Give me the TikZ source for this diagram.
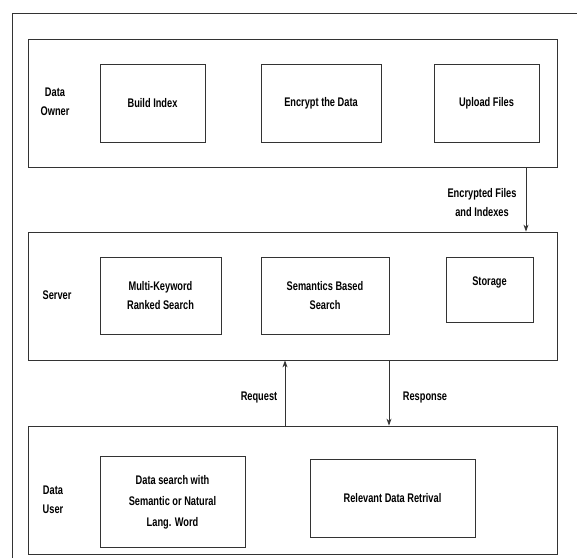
\documentclass[tikz,border=0pt]{standalone}
\usepackage{fontspec}
\setmainfont{Liberation Sans}[FakeStretch=0.74]
\usetikzlibrary{arrows.meta}
\tikzset{
  panel/.style={draw=black!80, line width=0.8pt, minimum height=128pt, minimum width=529pt, inner sep=0pt},
  box/.style={draw=black!80, line width=0.8pt, inner sep=0pt, align=center, font=\bfseries\fontsize{12.5}{19}\selectfont},
  lbl/.style={align=center, font=\bfseries\fontsize{12.5}{19}\selectfont},
  arr/.style={draw=black!80, line width=0.8pt, -{Stealth[length=7pt,width=5pt]}}
}
\begin{document}
\begin{tikzpicture}[x=1pt,y=-1pt]
\useasboundingbox (0,0) rectangle (577,558);
\draw[black!80, line width=0.8pt] (12,558) -- (12,13) -- (577,13);
% panels
\node[panel] (owner) at (292.5,103) {};
\node[panel] (server) at (292.5,296) {};
\node[panel] (user) at (292.5,490) {};
% owner row
\node[lbl] (lowner) at (55,102) {Data\\Owner};
\node[box, minimum width=105pt, minimum height=78pt] (build) at (152.5,103) {Build Index};
\node[box, minimum width=120pt, minimum height=78pt] (encrypt) at (321,103) {Encrypt the Data};
\node[box, minimum width=105pt, minimum height=78pt] (upload) at (486.5,103) {Upload Files};
% server row
\node[lbl] (lserver) at (57,295) {Server};
\node[box, minimum width=121pt, minimum height=77pt] (multi) at (160.5,295.5) {Multi-Keyword\\Ranked Search};
\node[box, minimum width=128pt, minimum height=77pt] (sem) at (325,295.5) {Semantics Based\\Search};
\node[box, minimum width=87pt, minimum height=65pt] (storage) at (489.5,289.5) {};
\node[lbl] (tstorage) at (489.5,282) {Storage};
% user row
\node[lbl] (luser) at (53,500) {Data\\User};
\node[box, minimum width=145pt, minimum height=91pt] (search) at (172.5,502) {Data search with\\[2pt]Semantic or Natural\\[2pt]Lang. Word};
\node[box, minimum width=165pt, minimum height=78pt] (relevant) at (392.5,498) {Relevant Data Retrival};
% connectors
\coordinate (xe) at (526,0);
\coordinate (xq) at (285,0);
\coordinate (xr) at (389,0);
\draw[arr] (owner.south -| xe) -- (server.north -| xe);
\draw[arr] (user.north -| xq) -- (server.south -| xq);
\draw[arr] (server.south -| xr) -- (user.north -| xr);
\node[lbl] (lenc) at (482,202.5) {Encrypted Files\\and Indexes};
\node[lbl] (lreq) at (259,397) {Request};
\node[lbl] (lresp) at (425,397) {Response};
\end{tikzpicture}
\end{document}
